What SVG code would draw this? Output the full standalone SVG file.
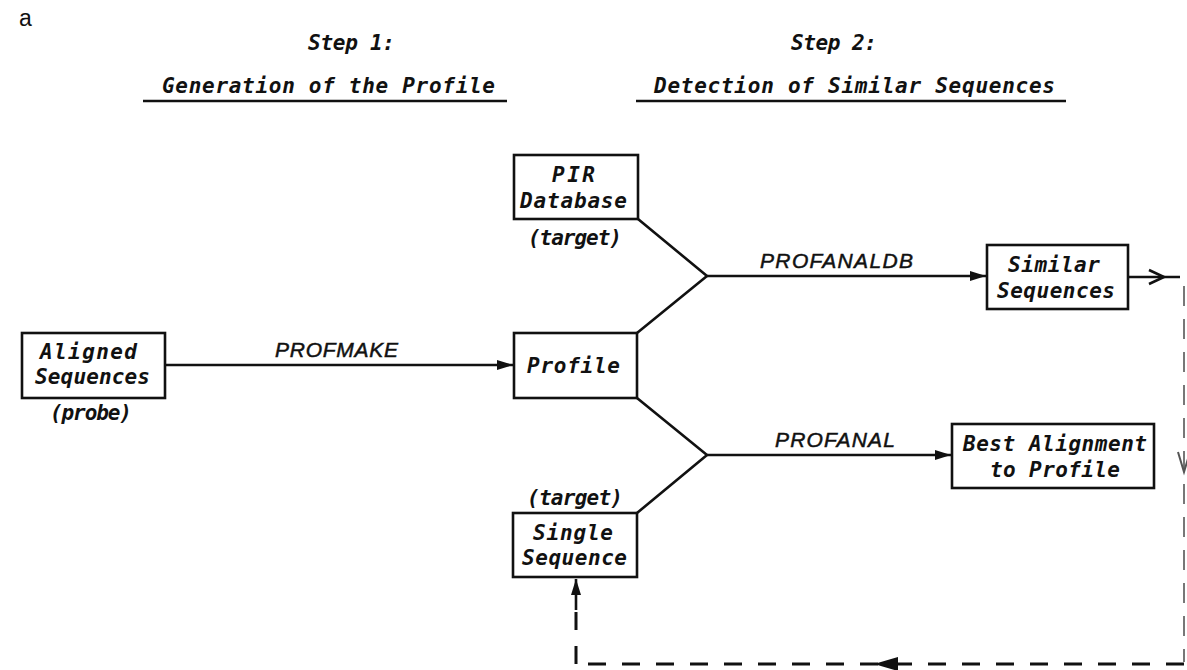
<svg xmlns="http://www.w3.org/2000/svg" width="1187" height="670" viewBox="0 0 1187 670">
<defs>
<marker id="ah" markerUnits="userSpaceOnUse" markerWidth="16" markerHeight="12" viewBox="0 0 16 12" refX="16" refY="6" orient="auto">
<path d="M0,1 L16,6 L0,11 Z" fill="#111"/>
</marker>
</defs>
<style>
.box{fill:#fff;stroke:#111;stroke-width:2.6}
.ln{fill:none;stroke:#111;stroke-width:2.6}
.dash{fill:none;stroke:#111;stroke-width:3;stroke-dasharray:18 16}
.mono{font-family:"DejaVu Sans Mono","Liberation Mono",monospace;font-style:italic;font-weight:bold;font-size:21px;fill:#111;text-anchor:middle}
.lbl{font-family:"Liberation Sans","DejaVu Sans",sans-serif;font-style:italic;font-size:21px;fill:#111;stroke:#111;stroke-width:0.5;text-anchor:middle}
</style>
<rect width="1187" height="670" fill="#fff"/>
<text x="19" y="26" style="font-family:'Liberation Sans',sans-serif;font-size:23px;fill:#111">a</text>
<g id="header1">
<text class="mono" x="351.5" y="50" textLength="87">Step 1:</text>
<text class="mono" x="328.5" y="93" textLength="333">Generation of the Profile</text>
<line class="ln" x1="143" y1="101" x2="507" y2="101"/>
</g>
<g id="header2">
<text class="mono" x="834" y="50" textLength="86">Step 2:</text>
<text class="mono" x="854.5" y="93" textLength="401">Detection of Similar Sequences</text>
<line class="ln" x1="636" y1="101" x2="1066" y2="101"/>
</g>
<g id="connectors">
<line class="ln" x1="165" y1="365" x2="513" y2="365" marker-end="url(#ah)"/>
<polyline class="ln" points="638,219 707,276 637,333"/>
<line class="ln" x1="707" y1="276" x2="986" y2="276" marker-end="url(#ah)"/>
<polyline class="ln" points="637,398 707,455 637,513"/>
<line class="ln" x1="707" y1="455" x2="951" y2="455" marker-end="url(#ah)"/>
<line class="ln" x1="1128" y1="277" x2="1180" y2="277"/>
<polyline class="ln" points="1149,270 1164,277 1149,284"/>
<line x1="1184" y1="286" x2="1184" y2="662" style="fill:none;stroke:#777;stroke-width:2;stroke-dasharray:20 13"/>
<polyline points="1178,452 1184,472 1190,452" style="fill:none;stroke:#555;stroke-width:2"/>
<line class="dash" x1="1184" y1="664" x2="578" y2="664"/>
<path d="M874,664 L898,657 L898,671 Z" fill="#111"/>
<line class="dash" x1="576" y1="664" x2="576" y2="605"/>
<line class="ln" x1="576" y1="610" x2="576" y2="579" marker-end="url(#ah)"/>
<text class="lbl" x="336.5" y="357" textLength="123">PROFMAKE</text>
<text class="lbl" x="836.5" y="268" textLength="153">PROFANALDB</text>
<text class="lbl" x="835" y="447" textLength="120">PROFANAL</text>
</g>
<g id="aligned">
<rect class="box" x="22" y="333" width="143" height="65"/>
<text class="mono" x="88.5" y="359" textLength="97">Aligned</text>
<text class="mono" x="92.5" y="384" textLength="115">Sequences</text>
<text class="mono" x="91" y="420" textLength="82">(probe)</text>
</g>
<g id="pir">
<rect class="box" x="514" y="155" width="124" height="64"/>
<text class="mono" x="573.5" y="182" textLength="43">PIR</text>
<text class="mono" x="573.5" y="208" textLength="107">Database</text>
<text class="mono" x="575" y="245" textLength="94">(target)</text>
</g>
<g id="profile">
<rect class="box" x="514" y="333" width="123" height="65"/>
<text class="mono" x="573.5" y="373" textLength="93">Profile</text>
</g>
<g id="single">
<rect class="box" x="513" y="513" width="124" height="64"/>
<text class="mono" x="575" y="505" textLength="96">(target)</text>
<text class="mono" x="573" y="540" textLength="80">Single</text>
<text class="mono" x="574.5" y="565" textLength="105">Sequence</text>
</g>
<g id="similar">
<rect class="box" x="987" y="245" width="141" height="64"/>
<text class="mono" x="1054" y="272" textLength="92">Similar</text>
<text class="mono" x="1056" y="298" textLength="118">Sequences</text>
</g>
<g id="best">
<rect class="box" x="952" y="424" width="202" height="64"/>
<text class="mono" x="1055" y="451" textLength="184">Best Alignment</text>
<text class="mono" x="1055" y="477" textLength="130">to Profile</text>
</g>
</svg>
